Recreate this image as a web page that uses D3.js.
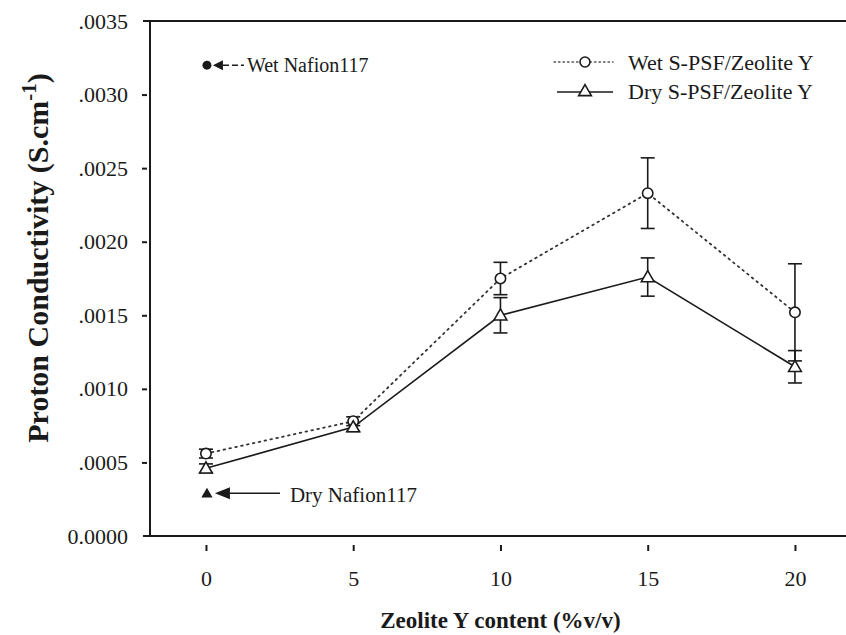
<!DOCTYPE html>
<html>
<head>
<meta charset="utf-8">
<script src="https://cdn.jsdelivr.net/npm/d3@7"></script>
<style>
  html, body { margin: 0; padding: 0; background: #fff; }
  svg { display: block; }
  text { font-family: "Liberation Serif", "Times New Roman", serif; fill: #1a1a1a; }
</style>
</head>
<body>
<svg id="chart" width="846" height="635"></svg>
<script>
// Zeolite Y loading (%v/v)
const zeolite = [0, 5, 10, 15, 20];

// Proton conductivity (S/cm) of the composite membranes, mean and error
const wetValues = [0.00056, 0.00078, 0.00175, 0.00233, 0.00152];
const wetErrors = [0.00003, 0.00003, 0.00011, 0.00024, 0.00033];
const dryValues = [0.00046, 0.00074, 0.00150, 0.00176, 0.00115];
const dryErrors = [0.00003, 0.00003, 0.00012, 0.00013, 0.00011];

// Nafion 117 reference values, plotted at zero loading
const nafionLabels = ["Wet Nafion117", "Dry Nafion117"];
const nafionValues = [0.00320, 0.00029];

const seriesNames = ["Wet S-PSF/Zeolite Y", "Dry S-PSF/Zeolite Y"];
const xTicks = [0, 5, 10, 15, 20];
const yTicks = [0, 0.0005, 0.0010, 0.0015, 0.0020, 0.0025, 0.0030, 0.0035];

const ink = "#1a1a1a";
const svg = d3.select("#chart");

const plotLeft = 150, plotTop = 21, plotBottom = 536;
const x = d3.scaleLinear().domain([-1.9, 22.3]).range([plotLeft, plotLeft + 24.2 * 29.45]);
const y = d3.scaleLinear().domain([0, 0.0035]).range([plotBottom, plotTop]);

// frame: left axis, top border, bottom axis (plot runs off to the right)
svg.append("line").attr("x1", plotLeft).attr("x2", plotLeft).attr("y1", plotTop).attr("y2", plotBottom)
  .attr("stroke", ink).attr("stroke-width", 2);
svg.append("line").attr("x1", plotLeft - 7).attr("x2", 846).attr("y1", plotTop).attr("y2", plotTop)
  .attr("stroke", ink).attr("stroke-width", 2);
svg.append("line").attr("x1", plotLeft - 7).attr("x2", 846).attr("y1", plotBottom).attr("y2", plotBottom)
  .attr("stroke", ink).attr("stroke-width", 2);

// y axis
const yFmt = v => v === 0 ? "0.0000" : d3.format(".4f")(v).replace(/^0/, "");
const yAxis = svg.append("g").attr("transform", `translate(${plotLeft},0)`)
  .call(d3.axisLeft(y).tickValues(yTicks).tickFormat(yFmt).tickSize(0).tickPadding(22));
yAxis.select(".domain").remove();
yAxis.selectAll(".tick text").style("font-size", "22px").attr("fill", ink)
  .style("font-family", '"Liberation Serif", serif');
yAxis.selectAll(".tick").filter(d => d > 0 && d < 0.0035).append("line")
  .attr("x1", -8).attr("x2", -3).attr("stroke", ink).attr("stroke-width", 2);

// x axis
const xAxis = svg.append("g").attr("transform", `translate(0,${plotBottom})`)
  .call(d3.axisBottom(x).tickValues(xTicks).tickFormat(d3.format("d")).tickSize(0).tickPadding(34));
xAxis.select(".domain").remove();
xAxis.selectAll(".tick text").style("font-size", "22px").attr("fill", ink)
  .style("font-family", '"Liberation Serif", serif');
xAxis.selectAll(".tick").append("line")
  .attr("y1", 9).attr("y2", 15).attr("stroke", ink).attr("stroke-width", 2);

// axis titles
svg.append("text").attr("x", x(10)).attr("y", 628).attr("text-anchor", "middle")
  .style("font-size", "23px").style("font-weight", "bold")
  .text("Zeolite Y content (%v/v)");
const yt = svg.append("text")
  .attr("transform", "translate(48,258) rotate(-90)")
  .attr("text-anchor", "middle").style("font-size", "30px").style("font-weight", "bold");
yt.append("tspan").text("Proton Conductivity (S.cm");
yt.append("tspan").attr("dy", -12).style("font-size", "21px").text("-1");
yt.append("tspan").attr("dy", 12).text(")");

// series
const wet = zeolite.map((z, i) => ({ x: z, v: wetValues[i], e: wetErrors[i] }));
const dry = zeolite.map((z, i) => ({ x: z, v: dryValues[i], e: dryErrors[i] }));
const line = d3.line().x(d => x(d.x)).y(d => y(d.v));
const tri = d3.symbol().type(d3.symbolTriangle).size(70);

function errorBars(data) {
  const g = svg.append("g").attr("stroke", ink).attr("stroke-width", 1.6);
  data.forEach(d => {
    const cx = x(d.x), y0 = y(d.v - d.e), y1 = y(d.v + d.e);
    g.append("line").attr("x1", cx).attr("x2", cx).attr("y1", y0).attr("y2", y1);
    g.append("line").attr("x1", cx - 7).attr("x2", cx + 7).attr("y1", y0).attr("y2", y0);
    g.append("line").attr("x1", cx - 7).attr("x2", cx + 7).attr("y1", y1).attr("y2", y1);
  });
}
errorBars(wet);
errorBars(dry);

svg.append("path").datum(wet).attr("d", line).attr("fill", "none")
  .attr("stroke", "#333").attr("stroke-width", 1.8).attr("stroke-dasharray", "1.6 4.4")
  .attr("stroke-linecap", "round");
svg.append("path").datum(dry).attr("d", line).attr("fill", "none")
  .attr("stroke", ink).attr("stroke-width", 1.6);

svg.append("g").selectAll("circle").data(wet).join("circle")
  .attr("cx", d => x(d.x)).attr("cy", d => y(d.v)).attr("r", 5.2)
  .attr("fill", "#fff").attr("stroke", ink).attr("stroke-width", 1.6);
svg.append("g").selectAll("path").data(dry).join("path")
  .attr("d", tri).attr("transform", d => `translate(${x(d.x)},${y(d.v) + 1})`)
  .attr("fill", "#fff").attr("stroke", ink).attr("stroke-width", 1.6);

// Nafion 117 reference markers with arrow labels
const nx = x(0);
const wy = y(nafionValues[0]), dy = y(nafionValues[1]);
svg.append("circle").attr("cx", nx + 1).attr("cy", wy).attr("r", 4.5).attr("fill", ink);
svg.append("path").attr("d", `M${nx + 7},${wy} L${nx + 17},${wy - 5} L${nx + 17},${wy + 5} Z`).attr("fill", ink);
svg.append("line").attr("x1", nx + 17).attr("x2", nx + 38).attr("y1", wy).attr("y2", wy)
  .attr("stroke", ink).attr("stroke-width", 1.5).attr("stroke-dasharray", "6 3");
svg.append("text").attr("x", nx + 41).attr("y", wy + 7).style("font-size", "20px").text(nafionLabels[0]);

svg.append("path").attr("d", d3.symbol().type(d3.symbolTriangle).size(55)())
  .attr("transform", `translate(${nx + 1},${dy + 1})`).attr("fill", ink);
svg.append("path").attr("d", `M${nx + 9},${dy} L${nx + 24},${dy - 6} L${nx + 24},${dy + 6} Z`).attr("fill", ink);
svg.append("line").attr("x1", nx + 24).attr("x2", nx + 74).attr("y1", dy).attr("y2", dy)
  .attr("stroke", ink).attr("stroke-width", 1.5);
svg.append("text").attr("x", nx + 84).attr("y", dy + 9).style("font-size", "21px").text(nafionLabels[1]);

// legend
const lg = svg.append("g");
lg.append("line").attr("x1", 554).attr("x2", 613).attr("y1", 62).attr("y2", 62)
  .attr("stroke", "#555").attr("stroke-width", 1.4).attr("stroke-dasharray", "1.5 3")
  .attr("stroke-linecap", "round");
lg.append("circle").attr("cx", 585).attr("cy", 62).attr("r", 5).attr("fill", "#fff")
  .attr("stroke", ink).attr("stroke-width", 1.6);
lg.append("text").attr("x", 628).attr("y", 70).style("font-size", "22px").text(seriesNames[0]);
lg.append("line").attr("x1", 557).attr("x2", 613).attr("y1", 92).attr("y2", 92)
  .attr("stroke", ink).attr("stroke-width", 1.6);
lg.append("path").attr("d", tri).attr("transform", "translate(585,92)")
  .attr("fill", "#fff").attr("stroke", ink).attr("stroke-width", 1.6);
lg.append("text").attr("x", 628).attr("y", 99).style("font-size", "22px").text(seriesNames[1]);
</script>
</body>
</html>
